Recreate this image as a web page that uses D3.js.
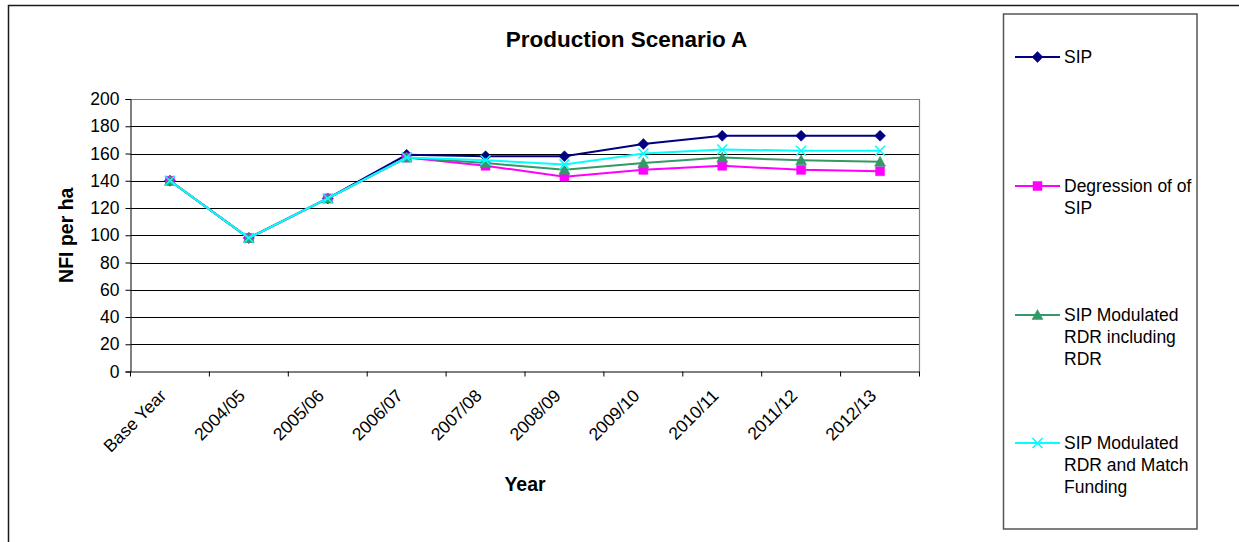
<!DOCTYPE html>
<html>
<head>
<meta charset="utf-8">
<script src="https://cdn.jsdelivr.net/npm/d3@7"></script>
<style>
  html, body { margin: 0; padding: 0; background: #fff; }
  svg { display: block; font-family: "Liberation Sans", Arial, sans-serif; }
</style>
</head>
<body>
<svg id="chart" width="1239" height="542"></svg>
<script>
// Years on the category axis
const years = ["Base Year", "2004/05", "2005/06", "2006/07", "2007/08",
               "2008/09", "2009/10", "2010/11", "2011/12", "2012/13"];

// NFI per ha for each scenario
const sip            = [140, 98, 127, 159, 158, 158, 167, 173, 173, 173];
const degression     = [140, 98, 127, 157, 151, 143, 148, 151, 148, 147];
const modulatedRdr   = [140, 98, 127, 157, 153, 148, 153, 157, 155, 154];
const modulatedMatch = [140, 98, 127, 157, 155, 152, 160, 163, 162, 162];

const yTicks = [0, 20, 40, 60, 80, 100, 120, 140, 160, 180, 200];

const seriesNames = [
  ["SIP"],
  ["Degression of of", "SIP"],
  ["SIP Modulated", "RDR including", "RDR"],
  ["SIP Modulated", "RDR and Match", "Funding"]
];

const series = [
  { name: seriesNames[0], values: sip,            color: "#000080", marker: "diamond" },
  { name: seriesNames[1], values: degression,     color: "#FF00FF", marker: "square" },
  { name: seriesNames[2], values: modulatedRdr,   color: "#339966", marker: "triangle" },
  { name: seriesNames[3], values: modulatedMatch, color: "#00FFFF", marker: "cross" }
];

const TICK_FONT = 17.5;

const svg = d3.select("#chart");

// chart area frame
svg.append("rect")
  .attr("x", 8.5).attr("y", 5.5)
  .attr("width", 1260).attr("height", 560)
  .attr("fill", "#fff").attr("stroke", "#1a1a1a").attr("stroke-width", 1.5);

const plot = { left: 130.5, right: 919.5, top: 99, bottom: 371.5 };

const x = d3.scaleBand().domain(years).range([plot.left, plot.right]);
const y = d3.scaleLinear().domain([0, 200]).range([plot.bottom, plot.top]);

// horizontal gridlines
svg.append("g")
  .selectAll("line")
  .data(yTicks.filter(t => t > 0 && t < 200))
  .join("line")
  .attr("x1", plot.left).attr("x2", plot.right)
  .attr("y1", d => Math.round(y(d)) + 0.5).attr("y2", d => Math.round(y(d)) + 0.5)
  .attr("stroke", "#000").attr("stroke-width", 1);

// plot area border (top and right)
svg.append("path")
  .attr("d", `M${plot.left},${Math.round(plot.top) + 0.5}H${plot.right}V${plot.bottom}`)
  .attr("fill", "none").attr("stroke", "#808080").attr("stroke-width", 1.2);

// y axis
const yAxis = svg.append("g")
  .attr("transform", `translate(${plot.left},0)`)
  .call(d3.axisLeft(y).tickValues(yTicks).tickSize(5).tickPadding(6));
yAxis.select(".domain").attr("stroke", "#000");
yAxis.selectAll(".tick line").attr("stroke", "#000");
yAxis.selectAll(".tick text")
  .attr("font-size", TICK_FONT).attr("fill", "#000")
  .attr("font-family", "Liberation Sans, Arial, sans-serif");

// x axis with ticks between categories
const xAxis = svg.append("g")
  .attr("transform", `translate(0,${plot.bottom})`);
xAxis.append("line")
  .attr("x1", plot.left).attr("x2", plot.right)
  .attr("y1", 0.5).attr("y2", 0.5)
  .attr("stroke", "#000");
const boundaries = years.map(d => x(d)).concat([plot.right]);
xAxis.selectAll("line.tick")
  .data(boundaries)
  .join("line")
  .attr("class", "tick")
  .attr("x1", d => d).attr("x2", d => d)
  .attr("y1", 0).attr("y2", 5)
  .attr("stroke", "#000");
xAxis.selectAll("text")
  .data(years)
  .join("text")
  .attr("transform", d => `translate(${x(d) + x.bandwidth() / 2 - 7},${21}) rotate(-45)`)
  .attr("text-anchor", "end")
  .attr("dy", "0.35em")
  .attr("font-size", TICK_FONT)
  .attr("fill", "#000")
  .text(d => d);

// series lines and markers
const line = d3.line()
  .x((d, i) => x(years[i]) + x.bandwidth() / 2)
  .y(d => y(d));

const markerPath = {
  diamond: "M0,-5.5L5.5,0L0,5.5L-5.5,0Z",
  square: "M-4.5,-4.5H4.5V4.5H-4.5Z",
  triangle: "M0,-5.5L5.5,4.5H-5.5Z",
  cross: "M-5,-5L5,5M-5,5L5,-5"
};

function drawMarker(g, kind, color) {
  if (kind === "cross") {
    g.append("path")
      .attr("d", markerPath.cross)
      .attr("stroke", color).attr("stroke-width", 1.5).attr("fill", "none");
  } else {
    g.append("path")
      .attr("d", markerPath[kind])
      .attr("fill", color).attr("stroke", color).attr("stroke-width", 0.5);
  }
}

series.forEach(s => {
  const g = svg.append("g");
  g.append("path")
    .datum(s.values)
    .attr("d", line)
    .attr("fill", "none")
    .attr("stroke", s.color)
    .attr("stroke-width", 2);
  s.values.forEach((v, i) => {
    const m = g.append("g")
      .attr("transform", `translate(${x(years[i]) + x.bandwidth() / 2},${y(v)})`);
    drawMarker(m, s.marker, s.color);
  });
});

// title
svg.append("text")
  .attr("x", 626.5).attr("y", 47)
  .attr("text-anchor", "middle")
  .attr("font-size", 22.5).attr("font-weight", "bold")
  .text("Production Scenario A");

// axis titles
svg.append("text")
  .attr("x", (plot.left + plot.right) / 2).attr("y", 491)
  .attr("text-anchor", "middle")
  .attr("font-size", 19.5).attr("font-weight", "bold")
  .text("Year");

svg.append("text")
  .attr("transform", `translate(73,${(plot.top + plot.bottom) / 2}) rotate(-90)`)
  .attr("text-anchor", "middle")
  .attr("font-size", 19.5).attr("font-weight", "bold")
  .text("NFI per ha");

// legend
const legend = svg.append("g");
legend.append("rect")
  .attr("x", 1003.5).attr("y", 14)
  .attr("width", 193.5).attr("height", 515)
  .attr("fill", "#fff").attr("stroke", "#555").attr("stroke-width", 1.5);

const legendY = [57, 186, 315, 443];
series.forEach((s, i) => {
  const g = legend.append("g").attr("transform", `translate(0,${legendY[i]})`);
  g.append("line")
    .attr("x1", 1015).attr("x2", 1060).attr("y1", 0).attr("y2", 0)
    .attr("stroke", s.color).attr("stroke-width", 2);
  const m = g.append("g").attr("transform", "translate(1037.5,0)");
  drawMarker(m, s.marker, s.color);
  const t = g.append("text")
    .attr("x", 1064).attr("y", 0)
    .attr("font-size", TICK_FONT).attr("fill", "#000");
  s.name.forEach((ln, k) => {
    t.append("tspan").attr("x", 1064).attr("dy", k === 0 ? "0.35em" : 22).text(ln);
  });
});
</script>
</body>
</html>
